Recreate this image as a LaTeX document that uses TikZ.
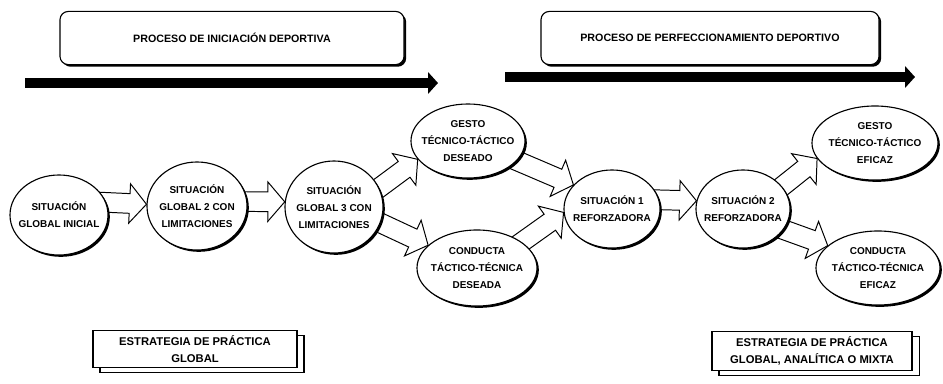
\documentclass[tikz,border=0pt]{standalone}
\usepackage{fontspec}
\setmainfont{Liberation Sans}
\usetikzlibrary{positioning,shapes,arrows.meta,calc,shadows}
\pgfdeclarelayer{background}
\pgfsetlayers{background,main}

\tikzset{
	situacion/.style={ellipse, draw, fill=white, line width=0.8pt, inner sep=0pt,
		drop shadow={shadow xshift=1.3pt, shadow yshift=-1.3pt, fill=black, opacity=1}},
	sittext/.style={align=center, inner sep=0pt, font=\fontsize{7.1}{12}\selectfont\bfseries},
	proceso/.style={draw, fill=white, rounded corners=6pt, line width=0.8pt, minimum height=1.33cm,
		font=\fontsize{7.6}{12}\selectfont\bfseries,
		drop shadow={shadow xshift=1.5pt, shadow yshift=-1.5pt, fill=black, opacity=1}},
	estrategia/.style={draw, fill=white, line width=0.8pt, align=center, minimum height=0.85cm,
		font=\fontsize{8}{12.5}\selectfont\bfseries,
		copy shadow={shadow xshift=5pt, shadow yshift=-3.5pt}},
	flecha/.style={line width=7.8pt, -{Triangle[length=7pt,width=15pt]}},
	hueca/.style={draw, fill=white, line width=0.7pt, line join=miter,
		to path={let \p1=(\tikztostart), \p2=(\tikztotarget),
			\n1={atan2(\y2-\y1,\x2-\x1)}, \n2={veclen(\x2-\x1,\y2-\y1)} in
			[shift={(\p1)}, rotate=\n1] (-6pt,7pt) -- (\n2-12pt,7pt) -- (\n2-12pt,14pt) -- (\n2,0pt)
			-- (\n2-12pt,-14pt) -- (\n2-12pt,-7pt) -- (-6pt,-7pt)}}
}

\begin{document}
\begin{tikzpicture}[x=0.025cm, y=-0.025cm]
	\useasboundingbox (0,0) rectangle (943,383);
	% procesos
	\node[proceso, minimum width=8.6cm] (P1) at (232,38) {PROCESO DE INICIACIÓN DEPORTIVA};
	\node[proceso, minimum width=8.45cm] (P2) at (710,38) {PROCESO DE PERFECCIONAMIENTO DEPORTIVO};
	\coordinate (a1) at (25,83);
	\coordinate (a1e) at (438,83);
	\coordinate (a2) at (505,77);
	\coordinate (a2e) at (915,77);
	\draw[flecha] (a1) -- (a1e);
	\draw[flecha] (a2) -- (a2e);
	% situaciones
	\node[situacion, minimum width=2.45cm, minimum height=2.0cm,
		label={[sittext]center:SITUACIÓN\\GLOBAL INICIAL}] (C1) at (59,215) {};
	\node[situacion, minimum width=2.5cm, minimum height=2.2cm,
		label={[sittext]center:SITUACIÓN\\GLOBAL 2 CON\\LIMITACIONES}] (C2) at (197,206) {};
	\node[situacion, minimum width=2.45cm, minimum height=2.3cm,
		label={[sittext]center:SITUACIÓN\\GLOBAL 3 CON\\LIMITACIONES}] (C3) at (334,207) {};
	\node[situacion, minimum width=2.85cm, minimum height=1.85cm,
		label={[sittext]center:GESTO\\TÉCNICO-TÁCTICO\\DESEADO}] (GD) at (468,141) {};
	\node[situacion, minimum width=3.0cm, minimum height=1.9cm,
		label={[sittext]center:CONDUCTA\\TÁCTICO-TÉCNICA\\DESEADA}] (CD) at (477,268) {};
	\node[situacion, minimum width=2.4cm, minimum height=1.95cm,
		label={[sittext]center:SITUACIÓN 1\\REFORZADORA}] (S1) at (612,209) {};
	\node[situacion, minimum width=2.35cm, minimum height=1.95cm,
		label={[sittext]center:SITUACIÓN 2\\REFORZADORA}] (S2) at (743,209) {};
	\node[situacion, minimum width=3.15cm, minimum height=1.85cm,
		label={[sittext]center:GESTO\\TÉCNICO-TÁCTICO\\EFICAZ}] (GE) at (875,143) {};
	\node[situacion, minimum width=3.1cm, minimum height=1.85cm,
		label={[sittext]center:CONDUCTA\\TÁCTICO-TÉCNICA\\EFICAZ}] (CE) at (878,268) {};
	% estrategias
	\node[estrategia, minimum width=5.1cm] (E1) at (195,349) {ESTRATEGIA DE PRÁCTICA\\GLOBAL};
	\node[estrategia, minimum width=5.0cm] (E2) at (812,351) {ESTRATEGIA DE PRÁCTICA\\GLOBAL, ANALÍTICA O MIXTA};
	\begin{pgfonlayer}{background}
	\draw[hueca] (C1.15) to (C2.178);
	\draw[hueca] (C2.5) to (C3.174);
	\draw[hueca] (C3.23) to (GD.200);
	\draw[hueca] (C3.-19) to (CD.155);
	\draw[hueca] (GD.-22) to (S1.148);
	\draw[hueca] (CD.30) to (S1.184);
	\draw[hueca] (S1.11) to (S2.170);
	\draw[hueca] (S2.30) to (GE.195);
	\draw[hueca] (S2.-27) to (CE.156);
	\end{pgfonlayer}
\end{tikzpicture}
\end{document}
